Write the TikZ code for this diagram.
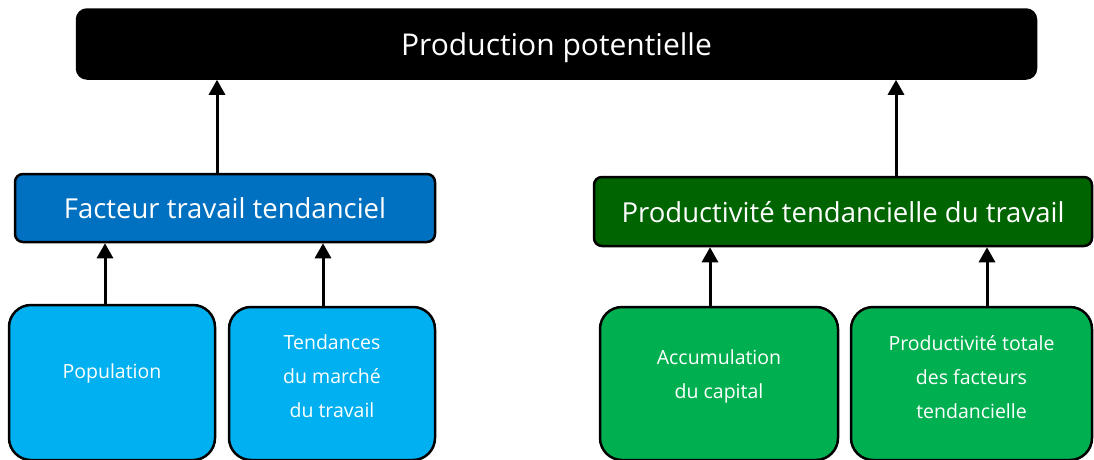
\documentclass[tikz,border=0pt]{standalone}
\usepackage{fontspec}
\setmainfont{Open Sans}
\usetikzlibrary{arrows.meta}
\definecolor{laborblue}{HTML}{0070C0}
\definecolor{prodgreen}{HTML}{006400}
\definecolor{lightblue}{HTML}{00B0F0}
\definecolor{lightgreen}{HTML}{00B050}
\begin{document}
\begin{tikzpicture}[x=1pt,y=-1pt,
  box/.style={draw=black, line width=2.5pt, text=white, inner sep=0pt, align=center},
  topbox/.style={box, fill=black, rounded corners=10pt, text depth=0pt, font=\fontsize{30}{36}\selectfont},
  midbox/.style={box, rounded corners=8pt, text depth=0pt, font=\fontsize{27.5}{32}\selectfont},
  leafbox/.style={box, rounded corners=22pt},
  leaftext/.style={text=white, align=center, font=\fontsize{19.5}{34}\selectfont},
  link/.style={line width=3pt, -{Triangle[width=16pt,length=15pt]}}]
\useasboundingbox (0,0) rectangle (1094,459);
\clip (0,0) rectangle (1094,459);

% top level
\node[topbox, minimum width=959pt, minimum height=69pt] (pp) at (556.5,44) {Production potentielle};

% intermediate factors
\node[midbox, fill=laborblue, minimum width=420pt, minimum height=68pt] (lab) at (225,208) {Facteur travail tendanciel};
\node[midbox, fill=prodgreen, minimum width=498pt, minimum height=69pt] (prd) at (843,211.5) {Productivité tendancielle du travail};

% leaves (cut by the lower edge)
\node[leafbox, fill=lightblue, minimum width=206pt, minimum height=155pt,
      label={[leaftext, yshift=9pt]center:Population}] (pop) at (112,382.5) {};
\node[leafbox, fill=lightblue, minimum width=206pt, minimum height=153pt,
      label={[leaftext, yshift=7pt]center:Tendances\\du marché\\du travail}] (tdm) at (332,383.5) {};
\node[leafbox, fill=lightgreen, minimum width=238pt, minimum height=153pt,
      label={[leaftext, yshift=7.5pt]center:Accumulation\\du capital}] (acc) at (719,383.5) {};
\node[leafbox, fill=lightgreen, minimum width=241pt, minimum height=153pt,
      label={[leaftext, yshift=6pt]center:Productivité totale\\des facteurs\\tendancielle}] (ptf) at (971.5,383.5) {};

% connectors
\draw[link] ([xshift=-8pt]lab.north) -- ([xshift=-8pt]lab.north |- pp.south);
\draw[link] ([xshift=53pt]prd.north) -- ([xshift=53pt]prd.north |- pp.south);
\draw[link] ([xshift=-7pt]pop.north) -- ([xshift=-7pt]pop.north |- lab.south);
\draw[link] ([xshift=-9pt]tdm.north) -- ([xshift=-9pt]tdm.north |- lab.south);
\draw[link] ([xshift=-9pt]acc.north) -- ([xshift=-9pt]acc.north |- prd.south);
\draw[link] ([xshift=15.5pt]ptf.north) -- ([xshift=15.5pt]ptf.north |- prd.south);
\end{tikzpicture}
\end{document}
